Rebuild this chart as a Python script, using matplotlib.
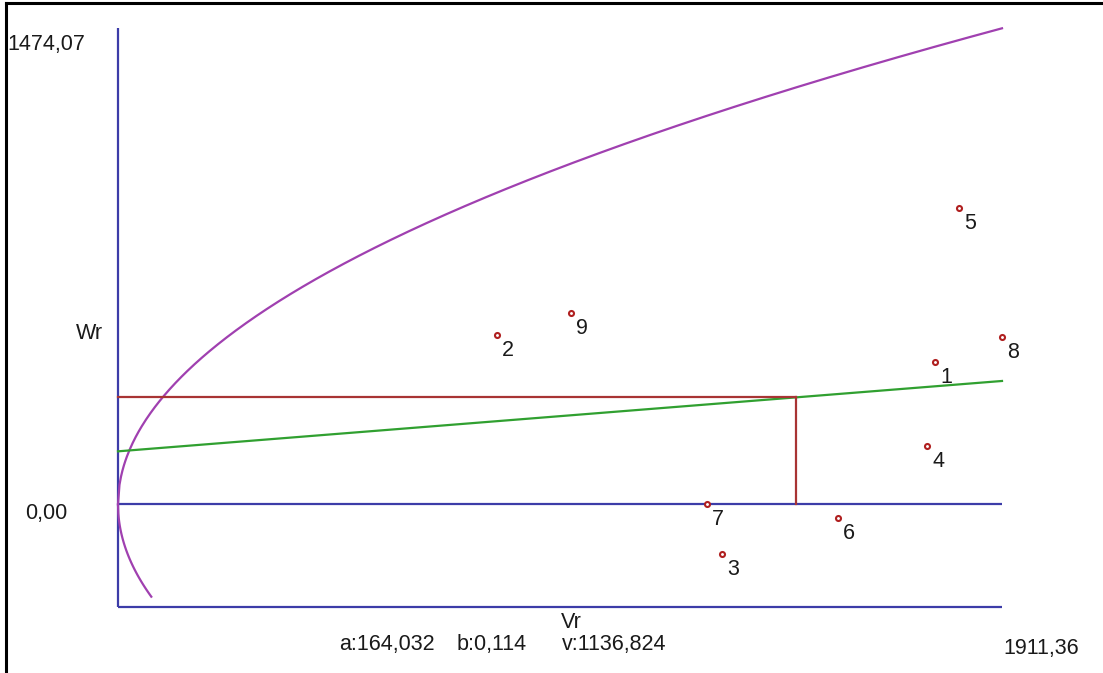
import numpy as np
import matplotlib
matplotlib.use("Agg")
import matplotlib.pyplot as plt
from matplotlib.lines import Line2D

# ---- data ----
labels = ["1", "2", "3", "4", "5", "6", "7", "8", "9"]
vr = [1766.5, 818.8, 1306.6, 1749.2, 1817.7, 1556.1, 1272.9, 1911.36, 979.5]
wr = [441.6, 524.3, -153.0, 181.5, 918.5, -43.4, 1.0, 519.0, 591.5]
a_coef = 164.032
b_coef = 0.114
v_coef = 1136.824
vr_max = 1911.36
wr_max = 1474.07
wr_min = -317.1
red_vr = 1465.0
lower_branch_end = 72.0
info_texts = ["a:164,032", "b:0,114", "v:1136,824"]

W, H = 1103, 673
fig = plt.figure(figsize=(W / 100, H / 100), dpi=100)
fig.patch.set_facecolor("white")
plt.rcParams["font.family"] = ["Liberation Sans", "DejaVu Sans"]

def fx(px):
    return px / W

def fy(py):
    return 1 - py / H

ax = fig.add_axes([fx(118), fy(606.7), 884 / W, (606.7 - 28.3) / H])
ax.set_xlim(0, vr_max)
ax.set_ylim(wr_min, wr_max)
ax.axis("off")

blue = "#3c3ca8"
purple = "#a040b0"
green = "#30a030"
red = "#a83434"
lw = 1.6

# axes lines
ax.plot([0, 0], [wr_min, wr_max], color=blue, lw=lw, clip_on=False, solid_capstyle="butt")
ax.plot([0, vr_max], [0, 0], color=blue, lw=lw, clip_on=False, solid_capstyle="butt")
ax.plot([0, vr_max], [wr_min, wr_min], color=blue, lw=lw, clip_on=False, solid_capstyle="butt")

# limiting parabola Wr^2 = v * Vr
xs = np.linspace(0, vr_max, 600)
ax.plot(xs, np.sqrt(v_coef * xs), color=purple, lw=lw, clip_on=False)
xl = np.linspace(0, lower_branch_end, 100)
ax.plot(xl, -np.sqrt(v_coef * xl), color=purple, lw=lw, clip_on=False)

# regression line
ax.plot([0, vr_max], [a_coef, a_coef + b_coef * vr_max], color=green, lw=lw, clip_on=False)

# red guide lines
red_wr = a_coef + b_coef * red_vr
ax.plot([0, red_vr], [red_wr, red_wr], color=red, lw=lw, clip_on=False)
ax.plot([red_vr, red_vr], [0, red_wr], color=red, lw=lw, clip_on=False)

# points
ax.scatter(vr, wr, s=13, facecolors="white", edgecolors="#b02020", linewidths=1.5,
           zorder=5, clip_on=False)
for lab, x, y in zip(labels, vr, wr):
    ax.annotate(lab, (x, y), xytext=(5, -21), textcoords="offset pixels",
                ha="left", va="baseline", fontsize=15.5, color="#1a1a1a")

tc = "#1a1a1a"
fs = 15.5
fig.text(fx(7), fy(50), "1474,07", ha="left", va="baseline", fontsize=fs, color=tc)
fig.text(fx(25), fy(519), "0,00", ha="left", va="baseline", fontsize=fs, color=tc)
fig.text(fx(1003), fy(654), "1911,36", ha="left", va="baseline", fontsize=fs, color=tc)
fig.text(fx(561), fy(628), "Vr", ha="left", va="baseline", fontsize=fs, color=tc)
fig.text(fx(76), fy(339), "Wr", ha="left", va="baseline", fontsize=fs, color=tc)
for t, px in zip(info_texts, [339, 457, 562]):
    fig.text(fx(px), fy(650), t, ha="left", va="baseline", fontsize=fs, color=tc)

# frame lines (left & top)
fig.add_artist(Line2D([fx(5.5), fx(5.5)], [0, fy(2.5)], color="black", lw=2.2))
fig.add_artist(Line2D([fx(5.5), 1], [fy(2.8), fy(2.8)], color="black", lw=2.2))

fig.savefig("out.png", dpi=100)
